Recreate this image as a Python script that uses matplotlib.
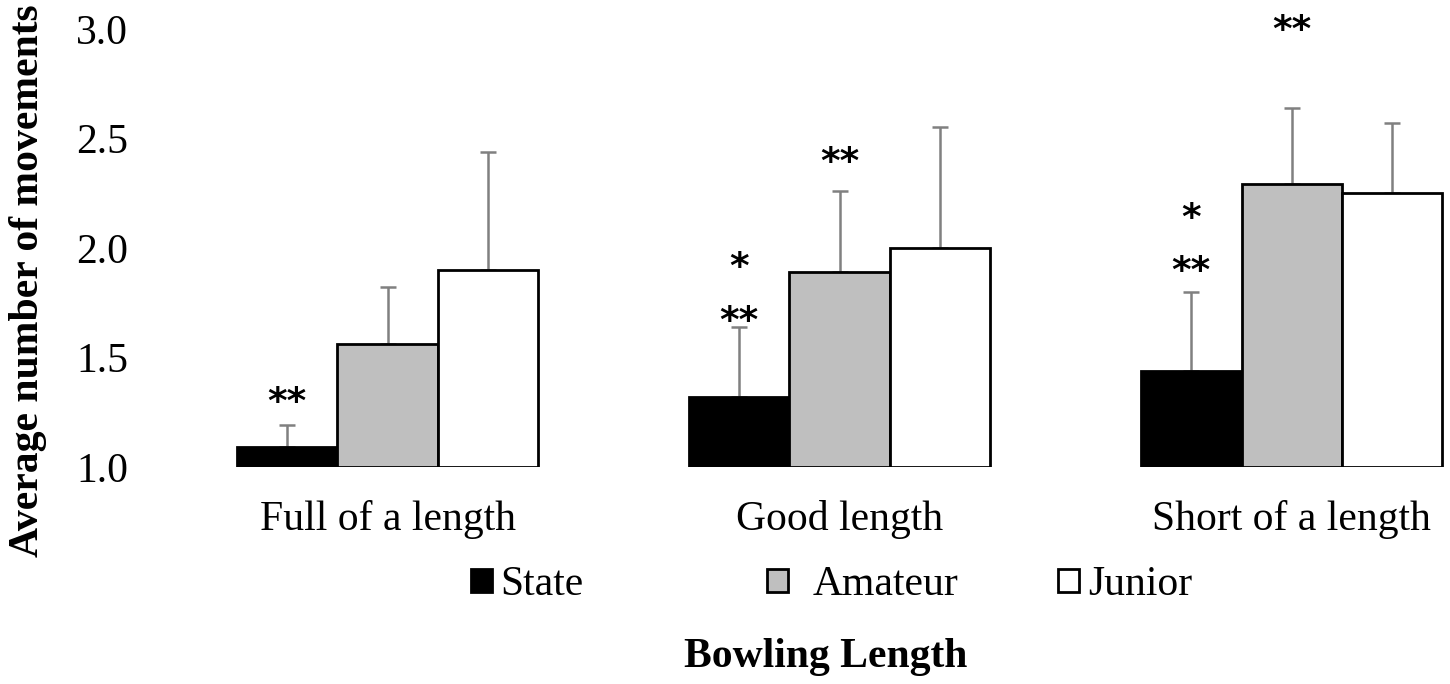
import matplotlib
matplotlib.use("Agg")
import matplotlib.pyplot as plt
import numpy as np

categories = ["Full of a length", "Good length", "Short of a length"]
series_names = ["State", "Amateur", "Junior"]
state_vals = [1.09, 1.32, 1.44]
amateur_vals = [1.56, 1.89, 2.29]
junior_vals = [1.90, 2.00, 2.25]
state_err = [0.10, 0.32, 0.36]
amateur_err = [0.26, 0.37, 0.35]
junior_err = [0.54, 0.55, 0.32]
y_ticks = [1.0, 1.5, 2.0, 2.5, 3.0]
y_ticklabels = ["1.0", "1.5", "2.0", "2.5", "3.0"]
x_label = "Bowling Length"
y_label = "Average number of movements"
# significance markers: (category index, series index, text, y value)
sig_cat = [0, 1, 1, 1, 2, 2, 2]
sig_series = [0, 0, 0, 1, 0, 0, 1]
sig_text = ["**", "**", "*", "**", "**", "*", "**"]
sig_y = [1.32, 1.69, 1.94, 2.42, 1.92, 2.16, 3.02]

plt.rcParams['font.family'] = ['Liberation Serif', 'DejaVu Serif']

fig = plt.figure(figsize=(14.5, 6.84), dpi=100)
ax = fig.add_axes([161.5 / 1450, 217 / 684, 1 - 161.5 / 1450, 467 / 684])

colors = ["black", "#bfbfbf", "white"]
vals = [state_vals, amateur_vals, junior_vals]
errs = [state_err, amateur_err, junior_err]
width = 1 / 4.5
x = np.arange(len(categories))
bars = []
for i in range(3):
    xi = x + (i - 1) * width
    heights = np.array(vals[i]) - 1.0
    b = ax.bar(xi, heights, width=width, bottom=1.0, color=colors[i],
               edgecolor="black", linewidth=2.0, zorder=2)
    bars.append(b)
    ax.errorbar(xi, vals[i], yerr=[np.zeros(3), errs[i]], fmt="none",
                ecolor="#808080", elinewidth=1.8, capsize=5.5, capthick=1.8,
                zorder=1)

for c, s, t, yv in zip(sig_cat, sig_series, sig_text, sig_y):
    ax.text(x[c] + (s - 1) * width, yv - 0.03, t, ha="center", va="center",
            fontsize=27, family="DejaVu Sans", fontweight="bold", clip_on=False)

ax.set_xlim(-0.5, 2.35)
ax.set_ylim(1.0, 3.132)
ax.set_yticks(y_ticks)
ax.set_yticklabels(y_ticklabels)
ax.set_xticks(x)
ax.set_xticklabels(categories)
ax.tick_params(axis="both", length=0, labelsize=30)
ax.tick_params(axis="y", pad=24)
ax.tick_params(axis="x", pad=24)
for sp in ax.spines.values():
    sp.set_visible(False)

fig.text(28 / 1450, (684 - 557) / 684, y_label, rotation=90, ha="center",
         va="bottom", fontsize=30, fontweight="bold")
fig.text(826 / 1450, (684 - 657) / 684, x_label, ha="center", va="center",
         fontsize=30, fontweight="bold")

leg_x = [471 / 1450, 767 / 1450, 1058 / 1450]
leg_pad = [0.2, 0.6, 0.22]
for i in range(3):
    fig.legend(handles=[bars[i]], labels=[series_names[i]], loc="center left",
               bbox_to_anchor=(leg_x[i], (684 - 585) / 684), frameon=False,
               fontsize=30, handlelength=0.5, handleheight=0.5,
               handletextpad=leg_pad[i], borderpad=0, borderaxespad=0)

fig.savefig("out.png", dpi=100)
